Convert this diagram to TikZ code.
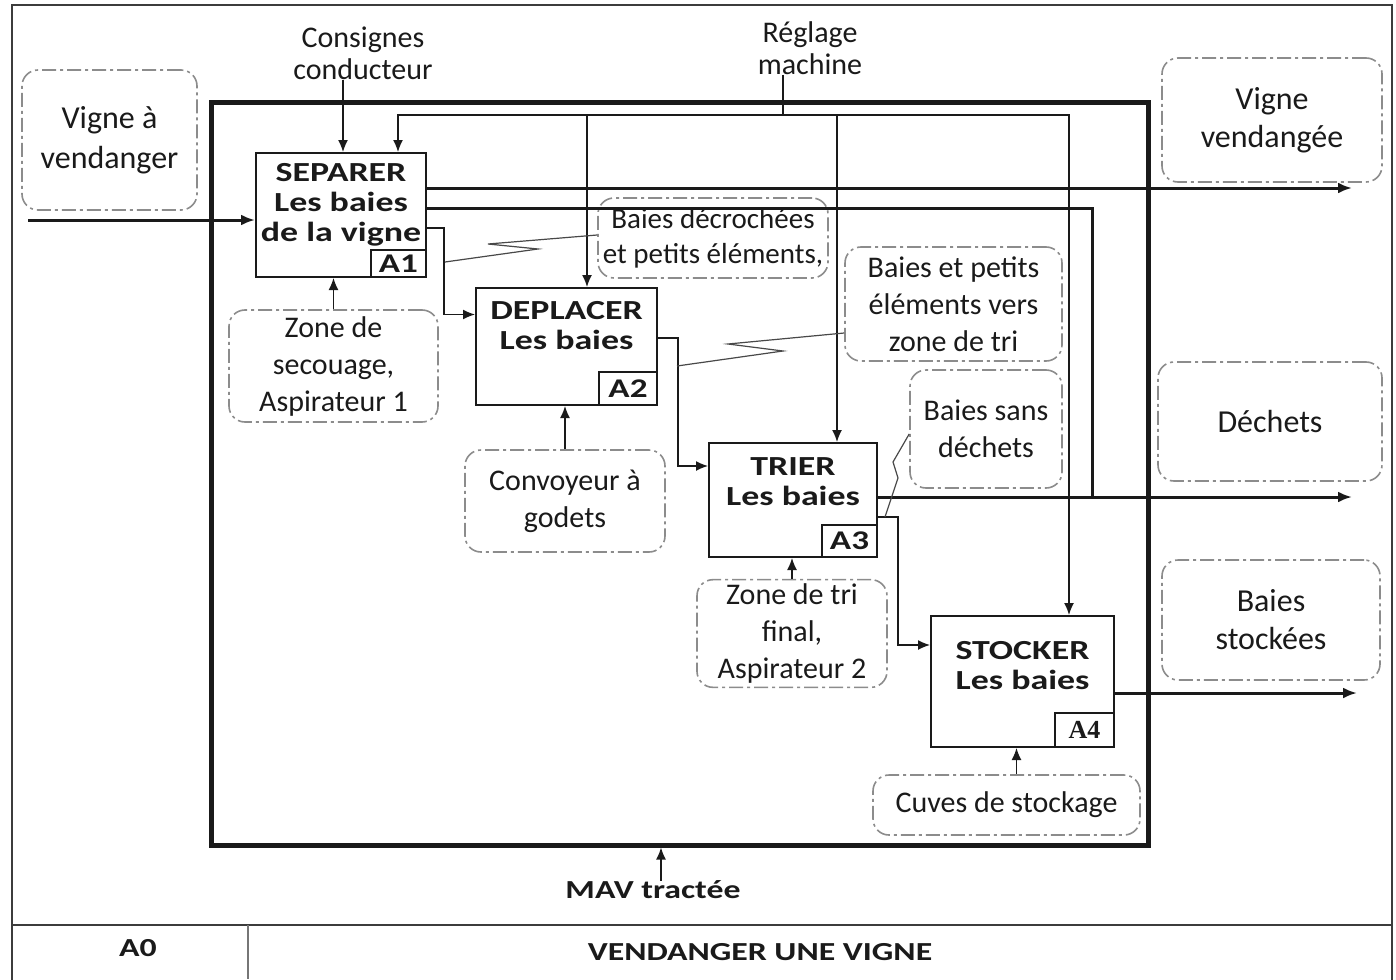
\documentclass[tikz,border=0pt]{standalone}
\usepackage{fontspec}
\setmainfont{Carlito}
\newfontfamily\widefont{Carlito}[FakeStretch=1.3]
\newfontfamily\numfont{Liberation Serif}
\usetikzlibrary{positioning, calc, arrows.meta}
\definecolor{Ink}{HTML}{1A1A1A}
\definecolor{Dash}{HTML}{8C8C8C}
\tikzset{
    actbox/.style={rectangle, draw=Ink, line width=1pt, fill=white},
    acttext/.style={anchor=north, align=center, inner sep=0pt, text=Ink, font=\widefont\bfseries\fontsize{13.8}{15}\selectfont},
    numbox/.style={rectangle, draw=Ink, line width=1pt, anchor=south east, inner sep=0pt, text=Ink, font=\widefont\bfseries\fontsize{13.5}{15}\selectfont},
    datbox/.style={rectangle, rounded corners=8pt, draw=Dash, line width=0.8pt, dash pattern=on 7pt off 2pt on 1.5pt off 2pt, align=center, inner sep=2pt, text=Ink, font=\fontsize{15}{18.5}\selectfont},
    plain/.style={align=center, inner sep=0pt, text=Ink, font=\fontsize{15}{16}\selectfont},
    titre/.style={inner sep=0pt, text=Ink, font=\widefont\bfseries\fontsize{13}{15}\selectfont},
    flow/.style={-{Latex[length=6pt,width=5pt]}, line width=0.7pt, draw=Ink},
    bigflow/.style={-{Latex[length=7pt,width=5.5pt]}, line width=1.5pt, draw=Ink},
    bigline/.style={line width=1.5pt, draw=Ink},
    thinline/.style={line width=0.7pt, draw=Ink},
    squig/.style={line width=0.6pt, draw=Ink!80},
}
\begin{document}
\begin{tikzpicture}[x=0.5pt, y=-0.5pt]
\useasboundingbox (0,0) rectangle (1396,979);
% Cadre de la feuille et cartouche
\draw[line width=1pt, Ink!85] (12,990) -- (12,5) -- (1392,5) -- (1392,990);
\draw[line width=1pt, Ink!85] (12,925) -- (1392,925);
\draw[line width=0.6pt, Ink!60] (248,925) -- (248,979);
\node[titre] (a0) at (138,948) {A0};
\node[titre] (titre) at (760,952) {VENDANGER UNE VIGNE};

% Cadre de la fonction A0
\node[rectangle, draw=Ink, line width=2.5pt, minimum width=468.5pt, minimum height=371pt] (cadre) at (679.5,474) {};

% Activites
\node[actbox, minimum width=85pt, minimum height=62pt, label={[acttext, yshift=-5.5pt]north:{SEPARER\\Les baies\\de la vigne}}] (sep) at (341,215) {};
\node[numbox, minimum width=27.5pt, minimum height=13.5pt] (sepn) at (sep.south east) {A1};
\node[actbox, minimum width=90.5pt, minimum height=58.5pt, label={[acttext, yshift=-7pt]north:{DEPLACER\\Les baies}}] (dep) at (566.5,346.5) {};
\node[numbox, minimum width=29pt, minimum height=16.5pt] (depn) at (dep.south east) {A2};
\node[actbox, minimum width=84pt, minimum height=57pt, label={[acttext, yshift=-7.5pt]north:{TRIER\\Les baies}}] (tri) at (793,500) {};
\node[numbox, minimum width=27.5pt, minimum height=16pt] (trin) at (tri.south east) {A3};
\node[actbox, minimum width=91.5pt, minimum height=65.5pt, label={[acttext, yshift=-13pt]north:{STOCKER\\Les baies}}] (sto) at (1022.5,681.5) {};
\node[numbox, minimum width=29.5pt, minimum height=17pt, font=\numfont\bfseries\fontsize{13}{15}\selectfont] (ston) at (sto.south east) {A4};

% Donnees
\node[datbox, minimum width=87.5pt, minimum height=70pt, font=\fontsize{16}{20}\selectfont] (vav) at (109.5,140) {Vigne à\\vendanger};
\node[datbox, minimum width=110pt, minimum height=62pt, font=\fontsize{16}{19}\selectfont] (vvd) at (1272,120) {Vigne\\vendangée};
\node[datbox, minimum width=112pt, minimum height=59.5pt, font=\fontsize{16}{19}\selectfont] (dech) at (1270,421.5) {Déchets};
\node[datbox, minimum width=109pt, minimum height=60pt, font=\fontsize{16}{19}\selectfont] (bst) at (1271,620) {Baies\\stockées};
\node[datbox, minimum width=104.5pt, minimum height=56pt] (zsec) at (333.5,366) {Zone de\\secouage,\\Aspirateur 1};
\node[datbox, minimum width=115pt, minimum height=40pt, inner sep=1pt, font=\fontsize{14.5}{17.5}\selectfont] (bdec) at (713,238) {Baies décrochées\\et petits éléments,};
\node[datbox, minimum width=108.5pt, minimum height=57pt] (bpe) at (953.5,304) {Baies et petits\\éléments vers\\zone de tri};
\node[datbox, minimum width=100pt, minimum height=51pt] (conv) at (565,501) {Convoyeur à\\godets};
\node[datbox, minimum width=76pt, minimum height=59pt] (bsd) at (986,429) {Baies sans\\déchets};
\node[datbox, minimum width=95pt, minimum height=51.5pt] (ztri) at (792,633.5) {Zone de tri\\final,\\Aspirateur 2};
\node[datbox, minimum width=133.5pt, minimum height=30pt] (cuv) at (1006.5,805) {Cuves de stockage};

% Controles
\node[plain] (cons) at (363,53) {Consignes\\conducteur};
\node[plain] (regl) at (810,48) {Réglage\\machine};
\draw[flow] ([xshift=-10pt]cons.south) -- ([xshift=-10pt]cons.south |- sep.north);
\coordinate (bus) at (783,115);
\coordinate (tapdep) at (587,115);
\coordinate (taptri) at (837,115);
\draw[thinline] (regl.south -| bus) -- (bus);
\draw[flow] (bus) -| ([xshift=28.5pt]sep.north);
\draw[flow] (bus) -| ([xshift=23.25pt]sto.north);
\draw[flow] (tapdep) -- (tapdep |- dep.north);
\draw[flow] (taptri) -- (taptri |- tri.north);

% Entree et sorties
\coordinate (invav) at (28,220);
\coordinate (outvv) at (1352,188);
\coordinate (jdech) at (1092,497);
\coordinate (outdech) at (1352,497);
\coordinate (outbst) at (1357,693);
\draw[bigflow] (invav) -- (invav -| sep.west);
\draw[bigflow] (outvv -| sep.east) -- (outvv);
\draw[bigline] ([yshift=3.5pt]sep.east) -| (jdech);
\draw[bigflow] (outdech -| tri.east) -- (outdech);
\draw[bigflow] (outbst -| sto.east) -- (outbst);

% Enchainement des activites
\draw[flow] ([yshift=-6.5pt]sep.east) -- ++(8.5pt,0) |- ([yshift=16pt]dep.west);
\draw[flow] ([yshift=4.25pt]dep.east) -- ++(10pt,0) |- ([yshift=17pt]tri.west);
\draw[flow] ([yshift=-8.5pt]tri.east) -- ++(10pt,0) |- ([yshift=18.25pt]sto.west);

% Mecanismes
\draw[flow] (zsec.north) -- (zsec.north |- sep.south);
\draw[flow] (conv.north) -- (conv.north |- dep.south);
\draw[flow] (ztri.north) -- (ztri.north |- tri.south);
\draw[flow] ([xshift=5pt]cuv.north) -- ([xshift=5pt]cuv.north |- sto.south);
\node[titre] (mav) at (653,890) {MAV tractée};
\draw[flow] ([xshift=4pt]mav.north) -- ([xshift=4pt]mav.north |- cadre.south);

% Renvois des etiquettes
\coordinate (sq1) at (445,262);
\coordinate (sq2) at (677,366);
\coordinate (sq3) at (885,517);
\draw[squig] (sq1) -- (538,249) -- (488,244) -- ([yshift=1.5pt]bdec.west);
\draw[squig] (sq2) -- (783,351) -- (728,344) -- ([yshift=-14.5pt]bpe.west);
\draw[squig] (sq3) -- (898,478) -- (893,462) -- ([yshift=-2.5pt]bsd.west);
\end{tikzpicture}
\end{document}
